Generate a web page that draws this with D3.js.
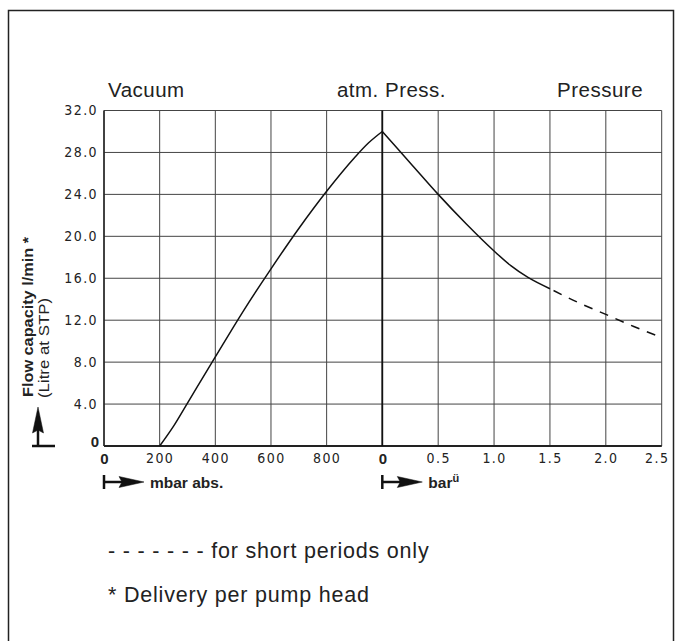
<!DOCTYPE html>
<html>
<head>
<meta charset="utf-8">
<script src="https://cdn.jsdelivr.net/npm/d3@7"></script>
<style>
  body { margin: 0; background: #fff; }
  svg text { fill: #222; }
</style>
</head>
<body>
<div id="graph"></div>
<script>
// ------------------------ data ------------------------
const yTicks = [0, 4, 8, 12, 16, 20, 24, 28, 32];
const mbarTicks = [0, 200, 400, 600, 800];
const barTicks = [0, 0.5, 1.0, 1.5, 2.0, 2.5];

// vacuum side (mbar abs.)
const vacuumMbar = [200, 250, 300, 400, 500, 600, 700, 800, 900, 950, 1000];
const vacuumFlow = [0, 1.9, 4.1, 8.5, 12.85, 16.9, 20.75, 24.3, 27.5, 28.9, 30.0];

// pressure side (bar), continuous operation
const pressBar = [0, 0.25, 0.5, 0.75, 1.0, 1.15, 1.3, 1.5];
const pressFlow = [30.0, 27.0, 24.0, 21.2, 18.6, 17.2, 16.1, 15.0];

// pressure side, short periods only (dashed)
const shortBar = [1.5, 1.75, 2.0, 2.25, 2.5];
const shortFlow = [15.0, 13.7, 12.55, 11.4, 10.35];

const headers = ["Vacuum", "atm. Press.", "Pressure"];

// ------------------------ D3 ------------------------
const W = 681, H = 641;
const PLOT = { l: 104, r: 661.7, t: 110.5, b: 446, mid: 382.3 };
const NUM_FONT = "'Liberation Sans Narrow', 'DejaVu Sans Condensed', 'Liberation Sans', sans-serif";
const FONT = "'Liberation Sans', Arial, sans-serif";

const svg = d3.select("#graph").append("svg")
  .attr("width", W).attr("height", H);

// outer frame (runs off the bottom)
svg.append("rect")
  .attr("x", 8.5).attr("y", 10.5)
  .attr("width", 665).attr("height", 660)
  .attr("fill", "none").attr("stroke", "#222").attr("stroke-width", 1.5);

const xV = d3.scaleLinear().domain([0, 1000]).range([PLOT.l, PLOT.mid]);
const xP = d3.scaleLinear().domain([0, 2.5]).range([PLOT.mid, PLOT.r]);
const y = d3.scaleLinear().domain([0, 32]).range([PLOT.b, PLOT.t]);

// grid
const grid = svg.append("g").attr("stroke", "#444").attr("stroke-width", 1);
grid.selectAll("line.h").data(yTicks).join("line")
  .attr("class", "h")
  .attr("x1", PLOT.l).attr("x2", PLOT.r)
  .attr("y1", d => y(d)).attr("y2", d => y(d));
grid.selectAll("line.vv").data(mbarTicks).join("line")
  .attr("class", "vv")
  .attr("x1", d => xV(d)).attr("x2", d => xV(d))
  .attr("y1", PLOT.t).attr("y2", PLOT.b);
grid.selectAll("line.vp").data(barTicks).join("line")
  .attr("class", "vp")
  .attr("x1", d => xP(d)).attr("x2", d => xP(d))
  .attr("y1", PLOT.t).attr("y2", PLOT.b);

// axis lines: bottom, left, and the atm. line
svg.append("line").attr("x1", PLOT.l).attr("x2", PLOT.r)
  .attr("y1", PLOT.b).attr("y2", PLOT.b)
  .attr("stroke", "#222").attr("stroke-width", 2);
svg.append("line").attr("x1", PLOT.l).attr("x2", PLOT.l)
  .attr("y1", PLOT.t).attr("y2", PLOT.b)
  .attr("stroke", "#222").attr("stroke-width", 1.5);
svg.append("line").attr("x1", xP(0)).attr("x2", xP(0))
  .attr("y1", PLOT.t).attr("y2", PLOT.b)
  .attr("stroke", "#111").attr("stroke-width", 1.8);

// y tick labels
const yAxis = d3.axisLeft(y).tickValues(yTicks).tickSize(0).tickPadding(6)
  .tickFormat(d => d === 0 ? "0" : d3.format(".1f")(d));
const yg = svg.append("g").attr("transform", `translate(${PLOT.l},0)`).call(yAxis);
yg.select(".domain").remove();
yg.selectAll("text")
  .style("font-family", NUM_FONT).style("font-size", "14px")
  .style("letter-spacing", "1.4px").attr("fill", "#222");
yg.selectAll(".tick").filter(d => d === 0).select("text")
  .style("font-family", FONT).style("font-weight", "bold")
  .style("font-size", "15px").style("letter-spacing", "0px")
  .attr("x", -5).attr("dy", "0");

// x tick labels (two scales sharing one axis line)
function styleX(g) {
  g.select(".domain").remove();
  g.selectAll("text")
    .style("font-family", NUM_FONT).style("font-size", "14px")
    .style("letter-spacing", "1.4px").attr("fill", "#222");
  g.selectAll(".tick").filter(d => d === 0).select("text")
    .style("font-family", FONT).style("font-weight", "bold")
    .style("font-size", "15px").style("letter-spacing", "0px");
}
const xgV = svg.append("g").attr("transform", `translate(0,${PLOT.b})`)
  .call(d3.axisBottom(xV).tickValues(mbarTicks).tickSize(0).tickPadding(7)
    .tickFormat(d3.format("d")));
styleX(xgV);
const xgP = svg.append("g").attr("transform", `translate(0,${PLOT.b})`)
  .call(d3.axisBottom(xP).tickValues(barTicks).tickSize(0).tickPadding(7)
    .tickFormat(d => d === 0 ? "0" : d3.format(".1f")(d)));
styleX(xgP);
xgP.selectAll(".tick").filter(d => d === 2.5).select("text").attr("x", -5);

// curves
const lineV = d3.line().x(d => xV(d[0])).y(d => y(d[1])).curve(d3.curveMonotoneX);
const lineP = d3.line().x(d => xP(d[0])).y(d => y(d[1])).curve(d3.curveMonotoneX);

svg.append("path").datum(d3.zip(vacuumMbar, vacuumFlow))
  .attr("d", lineV).attr("fill", "none")
  .attr("stroke", "#111").attr("stroke-width", 1.5);
svg.append("path").datum(d3.zip(pressBar, pressFlow))
  .attr("d", lineP).attr("fill", "none")
  .attr("stroke", "#111").attr("stroke-width", 1.5);
svg.append("path").datum(d3.zip(shortBar, shortFlow))
  .attr("d", lineP).attr("fill", "none")
  .attr("stroke", "#111").attr("stroke-width", 1.5)
  .attr("stroke-dasharray", "9,8").attr("stroke-dashoffset", -4);

// region headers
const hStyle = t => t.style("font-family", FONT).style("font-size", "20.5px").style("letter-spacing", "0.5px");
svg.append("text").attr("x", 108).attr("y", 96.5).text(headers[0]).call(hStyle);
svg.append("text").attr("x", 391.5).attr("y", 96.5).attr("text-anchor", "middle").text(headers[1]).call(hStyle);
svg.append("text").attr("x", 557).attr("y", 96.5).text(headers[2]).call(hStyle);

// y-axis title
svg.append("text")
  .attr("transform", "translate(33,397) rotate(-90)")
  .attr("textLength", 160).attr("lengthAdjust", "spacingAndGlyphs")
  .text("Flow capacity l/min *")
  .style("font-family", FONT).style("font-weight", "bold").style("font-size", "15.5px");
svg.append("text")
  .attr("transform", "translate(49,398) rotate(-90)")
  .attr("textLength", 100).attr("lengthAdjust", "spacingAndGlyphs")
  .text("(Litre at STP)")
  .style("font-family", FONT).style("font-size", "15px");

// upward arrow next to the y title
const arrows = svg.append("g").attr("fill", "#111").attr("stroke", "#111");
arrows.append("line").attr("x1", 32).attr("x2", 55).attr("y1", 446).attr("y2", 446).attr("stroke-width", 2.5);
arrows.append("line").attr("x1", 38).attr("x2", 38).attr("y1", 446).attr("y2", 428).attr("stroke-width", 2.5);
arrows.append("path").attr("d", "M38,407 L43.5,433 L38,430 L32.5,433 Z").attr("stroke-width", 0.5);

// arrows under the x axis
function xArrow(x0, label, sup) {
  const yA = 482;
  arrows.append("line").attr("x1", x0).attr("x2", x0).attr("y1", yA - 7).attr("y2", yA + 7).attr("stroke-width", 2.5);
  arrows.append("line").attr("x1", x0).attr("x2", x0 + 20).attr("y1", yA).attr("y2", yA).attr("stroke-width", 2.5);
  arrows.append("path").attr("d", `M${x0 + 40},${yA} L${x0 + 15},${yA - 5.5} L${x0 + 18},${yA} L${x0 + 15},${yA + 5.5} Z`).attr("stroke-width", 0.5);
  const t = svg.append("text").attr("x", x0 + 46).attr("y", yA + 5.5)
    .style("font-family", FONT).style("font-weight", "bold").style("font-size", "15.5px");
  t.append("tspan").text(label);
  if (sup) t.append("tspan").attr("dy", -6).style("font-size", "11px").text(sup);
}
xArrow(xV(0), "mbar abs.");
xArrow(xP(0), "bar", "ü");

// footnotes
const fStyle = t => t.style("font-family", FONT).style("font-size", "21.5px").style("letter-spacing", "0.8px");
svg.append("text").attr("x", 108).attr("y", 558)
  .text("- - - - - - - for short periods only").call(fStyle);
svg.append("text").attr("x", 108).attr("y", 602)
  .text("* Delivery per pump head").call(fStyle);
</script>
</body>
</html>
